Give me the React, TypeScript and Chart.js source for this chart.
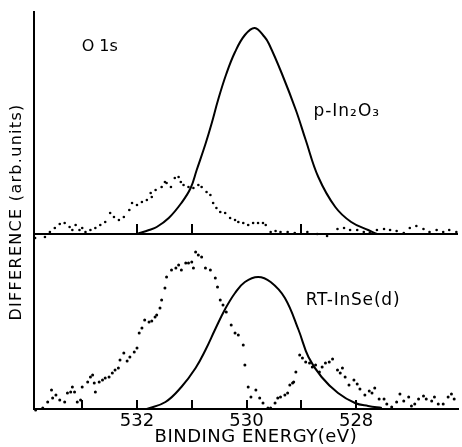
import React, { useEffect, useRef } from "react";
import { Chart, registerables } from "chart.js";
Chart.register(...registerables);

// ---- Data (binding energy in eV, difference in arb. units) ----
const topCurveEnergy = [532.0, 531.78, 531.64, 531.42, 531.19, 531.02, 530.91, 530.75, 530.64, 530.52, 530.37, 530.21, 530.03, 529.85, 529.67, 529.59, 529.36, 529.1, 528.92, 528.69, 528.38, 528.09, 527.78, 527.62];
const topCurveValue = [0, 2, 3.5, 8, 15.5, 23, 32, 45, 55, 67, 80, 91, 99.5, 103, 98.5, 95, 80.5, 62, 47, 28.5, 13.5, 6, 2, 0];

const topDotEnergy = [533.86, 533.68, 533.59, 533.5, 533.41, 533.32, 533.23, 533.18, 533.12, 533.05, 533.0, 532.94, 532.85, 532.76, 532.67, 532.58, 532.49, 532.42, 532.33, 532.24, 532.14, 532.09, 532.0, 531.91, 531.82, 531.75, 531.73, 531.66, 531.55, 531.49, 531.46, 531.38, 531.31, 531.24, 531.2, 531.15, 531.06, 530.97, 530.88, 530.82, 530.73, 530.66, 530.61, 530.55, 530.48, 530.39, 530.3, 530.21, 530.15, 530.06, 529.97, 529.88, 529.79, 529.7, 529.65, 529.56, 529.47, 529.38, 529.25, 529.12, 528.89, 528.71, 528.53, 528.34, 528.22, 528.11, 527.98, 527.86, 527.75, 527.62, 527.49, 527.38, 527.26, 527.13, 527.02, 526.9, 526.77, 526.66, 526.53, 526.41, 526.3, 526.17];
const topDotValue = [-2, -1.5, 1, 3, 5, 5.5, 3.5, 2, 4.5, 2, 3, 1, 2, 3, 4.5, 6, 10.5, 8.5, 7, 8.5, 12, 15.5, 14.5, 16, 17, 20.5, 18.5, 22, 23.5, 26, 25.5, 23.5, 28, 28.5, 26, 24.5, 23.5, 23, 24.5, 23.5, 21, 19.5, 15.5, 13, 11, 10.5, 8, 7, 6, 5.5, 4.5, 5.5, 5.5, 5.5, 4.5, 1, 1.5, 1, 1, 0.5, 1, 0, -1, 2.5, 3, 2, 2, 1, 0.5, 2, 2.5, 2, 1.5, 0.5, 3, 4, 2.5, 1, 2, 1, 2, 1];

const bottomCurveEnergy = [531.82, 531.48, 531.19, 530.93, 530.75, 530.57, 530.39, 530.21, 530.03, 529.79, 529.56, 529.3, 529.05, 528.87, 528.63, 528.33, 528.02, 527.78, 527.53];
const bottomCurveValue = [0, 3.5, 11, 20.5, 29.5, 40, 50, 58, 63.5, 66, 63.5, 55.5, 39.5, 26, 16, 8, 3, 1.5, 0.5];

const bottomDotEnergy = [533.85, 533.72, 533.63, 533.56, 533.54, 533.48, 533.41, 533.32, 533.27, 533.21, 533.18, 533.14, 533.09, 533.03, 533.0, 532.9, 532.85, 532.81, 532.78, 532.76, 532.69, 532.63, 532.58, 532.51, 532.45, 532.4, 532.34, 532.31, 532.24, 532.18, 532.13, 532.05, 532.0, 531.96, 531.91, 531.86, 531.78, 531.73, 531.67, 531.64, 531.58, 531.55, 531.49, 531.46, 531.37, 531.29, 531.24, 531.19, 531.11, 531.06, 531.0, 530.97, 530.93, 530.88, 530.82, 530.75, 530.66, 530.57, 530.53, 530.48, 530.43, 530.37, 530.28, 530.21, 530.15, 530.06, 530.03, 529.97, 529.92, 529.83, 529.76, 529.7, 529.61, 529.56, 529.48, 529.43, 529.38, 529.3, 529.25, 529.21, 529.16, 529.14, 529.1, 529.03, 528.98, 528.92, 528.85, 528.8, 528.74, 528.67, 528.62, 528.56, 528.49, 528.43, 528.34, 528.29, 528.25, 528.2, 528.13, 528.04, 527.98, 527.93, 527.84, 527.76, 527.71, 527.66, 527.58, 527.49, 527.44, 527.35, 527.26, 527.2, 527.13, 527.04, 526.99, 526.93, 526.86, 526.77, 526.72, 526.62, 526.57, 526.5, 526.41, 526.32, 526.26, 526.21];
const bottomDotValue = [-0.5, 0.5, 3.5, 9.5, 5.5, 7, 4.5, 3.5, 8, 8.5, 11, 8.5, 3.5, 4.5, 11, 13.5, 16, 17, 13, 8.5, 13.5, 14.5, 15.5, 16, 18, 19.5, 20.5, 24.5, 28, 24, 26, 28.5, 30.5, 38, 40.5, 44.5, 43.5, 44, 46, 47, 50.5, 54.5, 60.5, 66, 69.5, 70.5, 72, 69.5, 73, 73, 73.5, 70.5, 78.5, 77, 76, 70.5, 69.5, 65.5, 61, 54.5, 52, 48.5, 42, 38, 37, 32, 22, 11, 6, 9.5, 5.5, 3, 0.5, 0.5, 3, 5.5, 6, 7, 8, 12, 13, 13.5, 18.5, 27, 25.5, 23.5, 23, 21, 22, 18.5, 21, 23, 23.5, 25, 19.5, 18, 20.5, 16, 12, 14.5, 12.5, 10, 7, 9, 8, 10.5, 5, 5, 2.5, 1, 3.5, 7.5, 4, 6, 1.5, 2.5, 5, 6.5, 5, 4, 6, 2.5, 2.5, 6, 7.5, 5];

const xTickLabels = [532, 530, 528];
const topTickMarks = [532, 531, 529];
const bottomTickMarks = [533, 532, 531, 530, 529, 528];

const X_MIN = 526.14;
const X_MAX = 533.88;
const TOP_MAX = 111;
const BOT_MAX = 87.5;

const pts = (xs: number[], ys: number[]) => xs.map((x, i) => ({ x, y: ys[i] }));

const FONT = '"DejaVu Sans", "Liberation Sans", sans-serif';

const decorPlugin = {
  id: "decor",
  afterDatasetsDraw(chart: any) {
    const ctx = chart.ctx as CanvasRenderingContext2D;
    const xs = chart.scales.x;
    const yt = chart.scales.yTop;
    const yb = chart.scales.yBot;
    ctx.save();
    ctx.strokeStyle = "#000";
    ctx.lineWidth = 2;
    const y0t = yt.getPixelForValue(0);
    topTickMarks.forEach((v) => {
      const px = Math.round(xs.getPixelForValue(v));
      ctx.beginPath();
      ctx.moveTo(px, y0t);
      ctx.lineTo(px, y0t - 10);
      ctx.stroke();
    });
    const y0b = yb.getPixelForValue(0);
    bottomTickMarks.forEach((v) => {
      const px = Math.round(xs.getPixelForValue(v));
      ctx.beginPath();
      ctx.moveTo(px, y0b);
      ctx.lineTo(px, y0b - 9);
      ctx.stroke();
    });

    ctx.fillStyle = "#000";
    ctx.textBaseline = "middle";
    ctx.textAlign = "left";
    ctx.font = `16px ${FONT}`;
    ctx.fillText("O 1s", xs.getPixelForValue(533.01), yt.getPixelForValue(93.5));
    ctx.font = `17px ${FONT}`;
    (ctx as any).letterSpacing = "1px";
    ctx.fillText("p-In₂O₃", xs.getPixelForValue(528.78), yt.getPixelForValue(61));
    (ctx as any).letterSpacing = "0.8px";
    ctx.fillText("RT-InSe(d)", xs.getPixelForValue(528.92), yb.getPixelForValue(54));

    ctx.textAlign = "center";
    ctx.font = `18px ${FONT}`;
    (ctx as any).letterSpacing = "0.5px";
    ctx.fillText("BINDING ENERGY(eV)", xs.getPixelForValue(529.83), 437);

    ctx.translate(17, 212);
    ctx.rotate(-Math.PI / 2);
    ctx.font = `16px ${FONT}`;
    (ctx as any).letterSpacing = "1.3px";
    ctx.fillText("DIFFERENCE (arb.units)", 0, 0);
    ctx.restore();
  },
};

export default function App() {
  const ref = useRef<HTMLCanvasElement>(null);
  useEffect(() => {
    if (!ref.current) return;
    const chart = new Chart(ref.current, {
      type: "scatter",
      data: {
        datasets: [
          {
            data: pts(topDotEnergy, topDotValue),
            yAxisID: "yTop",
            pointRadius: 1.3,
            pointBackgroundColor: "#000",
            pointBorderWidth: 0,
            clip: false,
          } as any,
          {
            data: pts(topCurveEnergy, topCurveValue),
            yAxisID: "yTop",
            showLine: true,
            pointRadius: 0,
            borderColor: "#000",
            borderWidth: 2,
            tension: 0.4,
            clip: false,
          },
          {
            data: pts(bottomDotEnergy, bottomDotValue),
            yAxisID: "yBot",
            pointRadius: 1.5,
            pointBackgroundColor: "#000",
            pointBorderWidth: 0,
            clip: false,
          },
          {
            data: pts(bottomCurveEnergy, bottomCurveValue),
            yAxisID: "yBot",
            showLine: true,
            pointRadius: 0,
            borderColor: "#000",
            borderWidth: 2,
            tension: 0.4,
            clip: false,
          },
        ],
      },
      options: {
        responsive: false,
        animation: false,
        devicePixelRatio: 1,
        layout: { padding: { left: 34, top: 12, right: 0, bottom: 0 } },
        plugins: { legend: { display: false }, tooltip: { enabled: false } },
        events: [],
        scales: {
          x: {
            type: "linear",
            reverse: true,
            min: X_MIN,
            max: X_MAX,
            afterBuildTicks: (s: any) => {
              s.ticks = xTickLabels.map((v) => ({ value: v }));
            },
            afterFit: (s: any) => {
              s.height = 38;
            },
            grid: { display: false, drawTicks: false },
            border: { display: true, color: "#000", width: 2 },
            ticks: {
              color: "#000",
              font: { family: FONT, size: 18 },
              padding: 2,
              maxRotation: 0,
              autoSkip: false,
              callback: (v: any) => String(v),
            },
          },
          yBot: {
            type: "linear",
            position: "left",
            stack: "panels",
            stackWeight: BOT_MAX,
            min: 0,
            max: BOT_MAX,
            afterFit: (s: any) => {
              s.width = 0;
            },
            grid: { display: false, drawTicks: false },
            border: { display: true, color: "#000", width: 2 },
            ticks: { display: false },
          },
          yTop: {
            type: "linear",
            position: "left",
            stack: "panels",
            stackWeight: TOP_MAX,
            min: 0,
            max: TOP_MAX,
            afterBuildTicks: (s: any) => {
              s.ticks = [{ value: 0 }];
            },
            afterFit: (s: any) => {
              s.width = 0;
            },
            grid: { display: true, drawTicks: false, color: "#000", lineWidth: 2 },
            border: { display: true, color: "#000", width: 2 },
            ticks: { display: false },
          },
        } as any,
      },
      plugins: [decorPlugin],
    });
    return () => chart.destroy();
  }, []);
  return (
    <canvas
      ref={ref}
      width={462}
      height={447}
      style={{ position: "absolute", left: 0, top: 0, background: "#fff" }}
    />
  );
}
